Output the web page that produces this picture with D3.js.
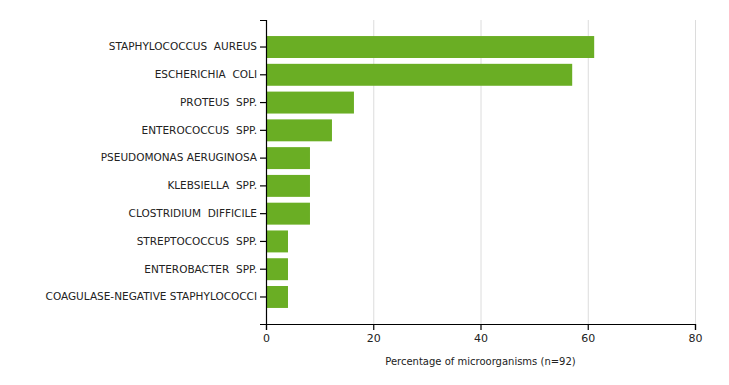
<!DOCTYPE html>
<html>
<head>
<meta charset="utf-8">
<script src="https://cdn.jsdelivr.net/npm/d3@7"></script>
<style>
  body { margin: 0; background: #fff; }
  text { font-family: "DejaVu Sans", Verdana, sans-serif; fill: #222; }
</style>
</head>
<body>
<svg id="chart" width="729" height="385"></svg>
<script>
var organisms = [
  "STAPHYLOCOCCUS  AUREUS",
  "ESCHERICHIA  COLI",
  "PROTEUS  SPP.",
  "ENTEROCOCCUS  SPP.",
  "PSEUDOMONAS AERUGINOSA",
  "KLEBSIELLA  SPP.",
  "CLOSTRIDIUM  DIFFICILE",
  "STREPTOCOCCUS  SPP.",
  "ENTEROBACTER  SPP.",
  "COAGULASE-NEGATIVE STAPHYLOCOCCI"
];
var percentages = [61.2, 57.1, 16.4, 12.3, 8.2, 8.2, 8.2, 4.1, 4.1, 4.1];
var x_ticks = [0, 20, 40, 60, 80];
var x_title = "Percentage of microorganisms (n=92)";

var MARGIN = { left: 266, right: 34, top: 20, bottom: 61 };
var width = 729, height = 385;

var svg = d3.select("#chart");

var x = d3.scaleLinear()
  .domain([0, 80])
  .range([MARGIN.left, width - MARGIN.right]);

var y = d3.scaleBand()
  .domain(organisms)
  .range([MARGIN.top, height - MARGIN.bottom])
  .paddingInner(0.21)
  .paddingOuter(0.578);

// grid lines
svg.append("g")
  .selectAll("line")
  .data(x_ticks.slice(1))
  .enter()
  .append("line")
  .attr("x1", function(d){ return x(d) + 0.5; })
  .attr("x2", function(d){ return x(d) + 0.5; })
  .attr("y1", MARGIN.top)
  .attr("y2", height - MARGIN.bottom)
  .attr("stroke", "#dcdcdc")
  .attr("stroke-width", 1);

// bars
svg.append("g")
  .selectAll("rect")
  .data(percentages)
  .enter()
  .append("rect")
  .attr("x", x(0))
  .attr("y", function(d, i){ return y(organisms[i]); })
  .attr("width", function(d){ return x(d) - x(0); })
  .attr("height", y.bandwidth())
  .attr("fill", "#6aae24");

// x axis
var x_axis = svg.append("g")
  .attr("transform", "translate(0," + (height - MARGIN.bottom) + ")")
  .call(d3.axisBottom(x).tickValues(x_ticks).tickSize(6).tickPadding(4));

// y axis
var y_axis = svg.append("g")
  .attr("transform", "translate(" + MARGIN.left + ",0)")
  .call(d3.axisLeft(y).tickSize(6).tickPadding(3));

[x_axis, y_axis].forEach(function(a){
  a.selectAll("path, line").attr("stroke", "#000").attr("stroke-width", 1.2);
  a.selectAll("text")
    .attr("fill", "#1e1e2e")
    .style("font-family", "\"DejaVu Sans\", Verdana, sans-serif")
    .style("font-size", "10.5px")
    .style("white-space", "pre");
});
x_axis.selectAll("text").style("font-size", "11px");

svg.append("text")
  .attr("x", (x(0) + x(80)) / 2)
  .attr("y", 365)
  .attr("text-anchor", "middle")
  .attr("fill", "#1e1e2e")
  .style("font-size", "10px")
  .text(x_title);
</script>
</body>
</html>
